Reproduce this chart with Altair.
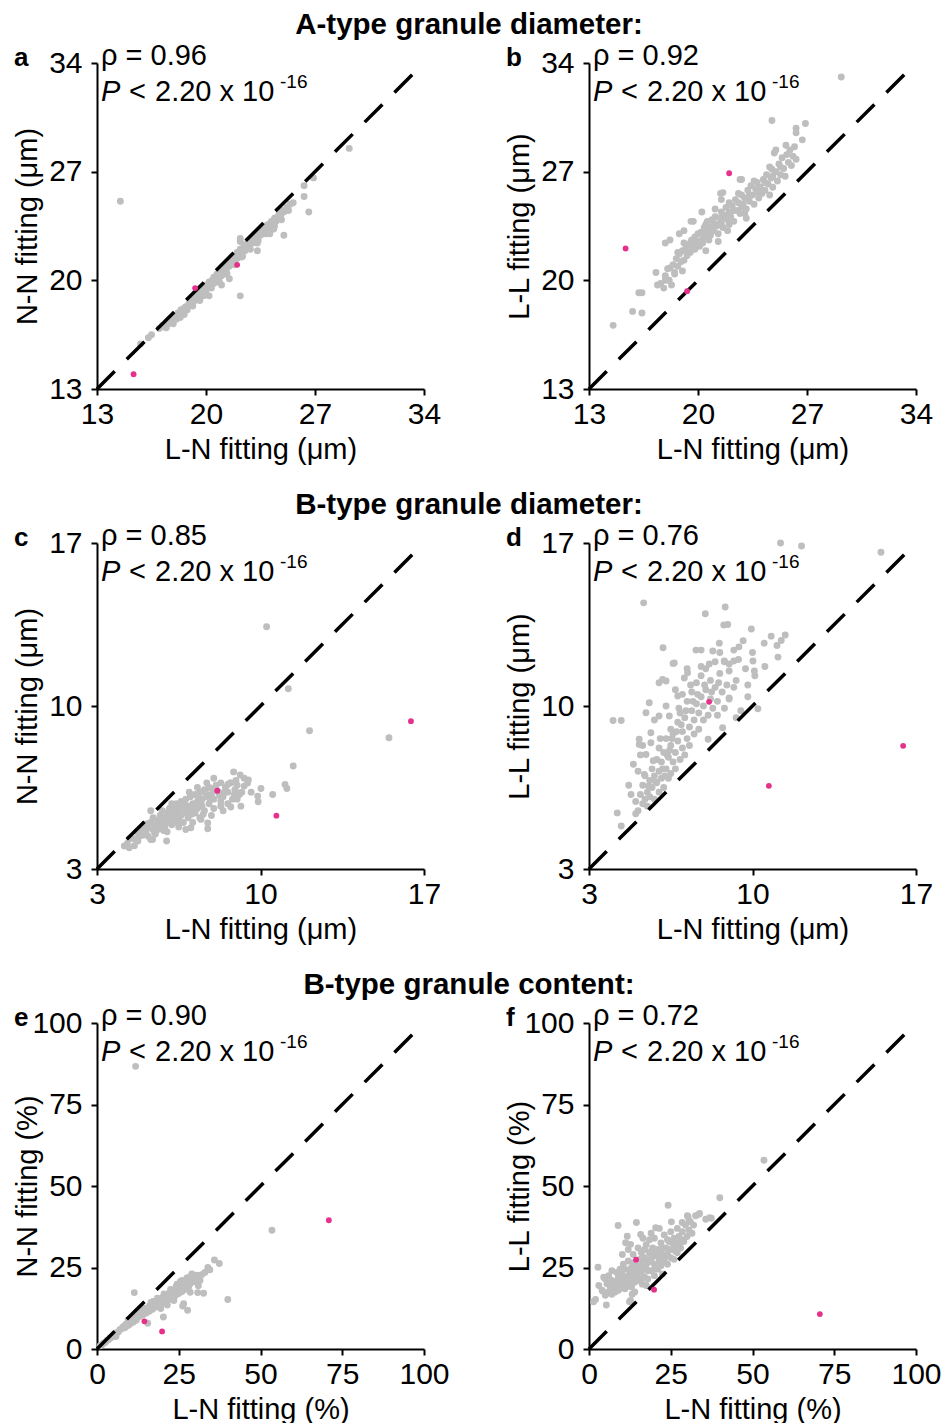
import altair as alt
import pandas as pd

FONT = "Liberation Sans"
GRAY = "#BEBEBE"
PINK = "#E6318C"

# ---------------- data ----------------
A_GRAY = [
    (14.5, 25.1), (29.2, 28.5), (26.9, 26.6), (26.3, 26.1), (26.3, 25.4), (26.6, 24.4),
    (25.0, 22.9), (22.2, 19.0), (22.2, 22.7), (17.9, 17.2), (16.3, 16.3), (16.5, 16.5),
    (15.8, 15.9), (24.1, 23.0), (23.3, 21.9), (21.5, 20.1), (21.0, 19.7), (20.2, 19.0),
    (24.4, 23.5),
    (17.0, 16.9), (17.2, 17.1), (17.3, 17.0), (17.5, 17.3), (17.6, 17.2), (17.7, 17.5),
    (17.8, 17.4), (17.9, 17.6), (18.0, 17.7), (18.1, 17.5), (18.2, 17.9), (18.3, 17.8),
    (18.4, 18.1), (18.5, 17.9), (18.6, 18.2), (18.7, 18.3), (18.8, 18.1), (18.9, 18.5),
    (19.0, 18.4), (19.0, 18.7), (19.1, 18.6), (19.2, 18.9), (19.3, 18.7), (19.4, 19.0),
    (19.5, 18.8), (19.5, 19.2), (19.6, 19.1), (19.7, 19.4), (19.8, 19.2), (19.9, 19.5),
    (20.0, 19.3), (20.0, 19.7), (20.1, 19.6), (20.2, 19.9), (20.3, 19.7), (20.4, 20.0),
    (20.5, 19.8), (20.5, 20.2), (20.6, 20.1), (20.7, 20.4), (20.8, 20.2), (20.9, 20.5),
    (21.0, 20.3), (21.0, 20.7), (21.1, 20.6), (21.2, 20.9), (21.3, 20.7), (21.4, 21.1),
    (21.5, 20.9), (21.5, 21.3), (21.6, 21.2), (21.7, 21.5), (21.8, 21.3), (21.9, 21.6),
    (22.0, 21.4), (22.0, 21.8), (22.1, 21.7), (22.2, 22.0), (22.3, 21.8), (22.4, 22.1),
    (22.5, 21.9), (22.5, 22.3), (22.6, 22.2), (22.7, 22.5), (22.8, 22.3), (22.9, 22.6),
    (23.0, 22.4), (23.0, 22.8), (23.1, 22.7), (23.2, 23.0), (23.3, 22.8), (23.4, 23.1),
    (23.5, 22.9), (23.6, 23.3), (23.7, 23.1), (23.8, 23.5), (23.9, 23.3), (24.0, 23.6),
    (24.1, 23.4), (24.2, 23.8), (24.3, 23.7), (24.4, 24.0), (24.5, 23.8), (24.6, 24.1),
    (24.7, 24.3), (24.8, 24.2), (24.9, 24.5), (25.0, 24.4), (25.2, 24.7), (25.4, 24.9),
    (25.6, 25.0), (23.7, 23.0), (22.3, 21.5), (21.2, 20.4), (20.7, 19.9), (19.6, 18.7),
    (18.6, 17.8), (24.1, 23.2), (23.3, 22.4), (22.2, 22.5),
    (19.15, 18.35), (19.85, 19.0), (20.35, 19.5), (20.85, 19.95), (21.35, 20.45),
    (21.85, 21.0), (22.35, 21.55), (22.85, 22.0), (23.35, 22.55), (23.85, 23.0),
    (24.35, 23.3), (24.85, 23.9), (25.3, 24.5), (18.35, 17.6), (17.45, 16.95),
]
A_PINK = [(15.35, 13.95), (19.3, 19.5), (22.0, 21.0)]

B_GRAY = [
    (29.2, 33.1), (24.75, 30.3), (26.9, 30.1), (26.3, 29.8), (26.3, 29.5), (26.7, 29.05),
    (14.55, 17.1), (15.8, 18.0), (16.4, 17.9), (16.2, 19.2), (16.4, 19.2), (17.4, 19.7),
    (17.8, 19.5), (17.9, 20.0), (18.05, 20.75), (17.9, 22.4), (18.2, 22.6), (19.1, 23.2),
    (19.7, 23.8), (20.25, 24.4), (21.45, 25.6), (21.6, 25.65), (22.7, 26.5),
    (18.8, 23.0), (18.7, 21.8), (19.1, 22.4), (19.55, 22.5), (19.55, 23.8), (21.5, 25.2),
    (22.8, 26.5), (17.3, 20.5), (18.15, 20.0), (18.5, 20.4),
    (17.6, 19.8), (17.9, 20.3), (18.1, 20.0), (18.2, 20.8), (18.4, 21.0), (18.5, 20.5),
    (18.6, 21.4), (18.7, 20.9), (18.8, 21.7), (18.9, 21.2), (19.0, 21.9), (19.1, 21.3),
    (19.2, 22.0), (19.3, 21.6), (19.4, 22.3), (19.5, 21.8), (19.6, 22.6), (19.7, 22.1),
    (19.8, 22.8), (19.9, 22.3), (20.0, 23.0), (20.0, 22.5), (20.1, 22.2), (20.2, 23.1),
    (20.3, 22.7), (20.4, 23.4), (20.5, 22.9), (20.5, 23.6), (20.6, 23.1), (20.7, 22.6),
    (20.8, 23.4), (20.9, 23.9), (21.0, 23.2), (21.0, 23.7), (21.1, 24.1), (21.2, 23.5),
    (21.3, 23.0), (21.4, 24.0), (21.5, 23.7), (21.5, 24.4), (21.6, 23.4), (21.7, 24.2),
    (21.8, 24.7), (21.9, 23.9), (22.0, 24.4), (22.0, 25.0), (22.1, 24.1), (22.2, 24.8),
    (22.3, 23.8), (22.4, 25.2), (22.5, 24.5), (22.6, 25.0), (22.7, 24.3), (22.8, 25.5),
    (22.9, 24.9), (23.0, 25.3), (23.1, 24.6), (23.2, 25.8), (23.3, 25.1), (23.4, 26.1),
    (23.5, 25.5), (23.6, 24.9), (23.7, 25.9), (23.8, 26.3), (23.9, 25.3), (24.0, 26.0),
    (24.1, 25.6), (24.2, 26.5), (24.3, 25.8), (24.4, 26.8), (24.5, 26.2), (24.6, 25.5),
    (24.7, 26.6), (24.8, 26.0), (25.0, 27.0), (25.1, 26.4), (25.2, 27.5), (25.3, 26.8),
    (25.4, 27.9), (25.5, 27.2), (25.6, 26.7), (25.7, 28.1), (25.8, 27.6), (25.9, 28.4),
    (26.0, 27.4), (26.1, 28.0), (26.2, 28.6), (26.3, 27.8), (25.0, 28.4), (24.9, 28.2),
    (23.0, 24.3), (22.0, 23.6), (19.0, 20.6), (18.3, 19.7), (20.5, 21.9), (21.3, 22.5),
    (25.65, 28.7), (24.75, 27.15),
    (19.3, 21.9), (19.8, 22.0), (20.3, 22.4), (20.8, 22.9), (21.3, 23.6), (21.8, 24.0),
    (22.3, 24.5), (22.8, 24.7), (23.3, 25.5), (23.8, 25.7), (24.3, 26.3), (24.8, 26.7),
    (25.3, 27.3), (20.6, 23.8), (21.1, 24.6), (22.6, 25.6), (23.6, 26.4), (24.6, 27.3),
    (21.9, 23.2), (23.1, 24.0),
]
B_PINK = [(15.35, 22.05), (22.0, 26.9), (19.3, 19.3)]

C_GRAY = [
    (10.26, 13.4), (11.19, 10.74), (12.1, 8.94), (15.5, 8.64), (11.4, 7.42), (11.05, 6.63),
    (11.13, 6.46), (10.52, 6.2), (10.02, 6.46), (9.88, 6.13), (9.9, 5.89), (9.48, 6.82),
    (9.45, 6.69), (9.13, 7.04), (8.85, 7.17), (9.16, 5.7), (7.74, 4.73), (7.45, 5.13),
    (5.98, 4.2), (4.17, 3.99), (4.38, 3.91), (4.96, 4.7), (5.38, 4.27), (9.3, 6.56),
    (8.6, 6.63), (8.74, 6.7), (8.88, 6.2), (9.02, 6.27), (8.3, 5.7), (8.73, 5.66),
    (7.74, 4.98), (7.02, 4.77), (5.3, 4.27),
    (4.6, 4.3), (4.7, 4.6), (4.8, 4.4), (4.9, 4.7), (5.0, 4.5), (5.0, 4.9), (5.1, 4.6),
    (5.2, 4.8), (5.2, 4.4), (5.3, 5.0), (5.4, 4.7), (5.4, 5.2), (5.5, 4.5), (5.5, 4.9),
    (5.6, 5.1), (5.6, 4.7), (5.7, 5.3), (5.7, 4.9), (5.8, 5.0), (5.8, 5.5), (5.9, 4.8),
    (5.9, 5.2), (6.0, 5.4), (6.0, 4.6), (6.0, 5.0), (6.1, 5.6), (6.1, 5.1), (6.2, 4.9),
    (6.2, 5.3), (6.3, 5.7), (6.3, 5.0), (6.4, 5.4), (6.4, 5.8), (6.5, 5.2), (6.5, 5.5),
    (6.5, 4.8), (6.6, 5.9), (6.6, 5.3), (6.7, 5.6), (6.7, 5.0), (6.8, 6.0), (6.8, 5.4),
    (6.9, 5.7), (6.9, 5.2), (7.0, 6.1), (7.0, 5.5), (7.1, 5.8), (7.1, 5.0), (7.2, 6.2),
    (7.2, 5.4), (7.3, 5.9), (7.3, 5.6), (7.4, 6.3), (7.4, 5.2), (7.5, 6.0), (7.5, 5.7),
    (7.6, 6.4), (7.6, 5.5), (7.7, 6.1), (7.8, 5.8), (7.8, 6.5), (7.9, 6.2), (8.0, 5.6),
    (8.0, 6.0), (8.1, 6.6), (8.2, 6.3), (8.3, 5.9), (8.3, 6.7), (8.4, 6.1), (8.5, 6.5),
    (8.6, 6.3), (8.6, 5.8), (8.7, 6.7), (8.8, 6.0), (8.9, 6.4), (9.0, 6.6), (9.1, 6.2),
    (9.2, 6.3), (8.0, 6.9), (7.3, 6.5), (6.2, 5.8), (5.3, 5.5), (4.4, 4.3), (4.3, 4.1),
    (4.6, 4.0), (6.8, 4.7), (7.9, 5.3), (8.4, 5.5), (9.0, 6.0), (9.6, 6.3),
    (5.15, 4.95), (5.45, 4.6), (5.75, 5.15), (6.05, 5.25), (6.35, 5.15), (6.55, 5.65),
    (6.85, 5.55), (7.15, 5.65), (7.45, 5.85), (7.65, 6.25), (7.95, 6.45), (8.25, 6.15),
    (6.25, 5.45), (5.95, 5.0), (5.65, 4.85), (6.75, 5.8), (7.05, 5.35), (7.35, 6.1),
    (7.85, 6.0), (8.15, 6.35), (6.45, 5.0), (5.85, 4.65), (4.95, 4.45), (4.75, 4.2),
    (7.55, 5.35), (8.45, 6.3), (8.95, 6.8), (9.3, 6.9), (6.95, 6.3), (7.7, 6.7),
]
C_PINK = [(16.44, 9.35), (8.15, 6.36), (10.68, 5.29)]

D_GRAY = [
    (11.2, 17.0), (12.1, 16.87), (15.5, 16.6), (5.34, 14.43), (8.83, 14.25), (7.98, 13.96),
    (8.77, 13.48), (9.95, 13.31), (11.4, 13.05), (11.23, 12.81), (11.05, 12.6), (11.09, 12.1),
    (6.17, 12.5), (9.42, 12.54), (10.02, 11.93), (10.53, 11.7), (4.03, 9.38), (4.38, 9.38),
    (4.21, 5.41), (4.38, 4.85), (5.0, 5.37), (10.23, 9.88), (9.8, 10.4), (6.6, 11.83),
    (6.15, 11.14), (6.3, 11.07), (7.08, 11.2), (7.22, 11.43), (7.58, 12.4), (7.8, 11.7),
    (8.79, 11.93), (9.0, 11.8), (9.2, 11.93), (8.94, 13.5), (10.08, 11.5), (9.2, 10.8),
    (9.0, 10.35), (8.72, 9.07), (8.1, 8.57), (5.37, 7.06), (5.15, 8.57), (5.15, 8.35),
    (5.65, 8.42), (5.44, 7.92), (5.65, 8.85), (5.44, 9.71), (5.58, 10.14), (6.0, 9.57),
    (6.44, 9.57), (6.8, 10.43), (7.0, 10.5), (6.65, 11.85), (8.3, 12.36), (8.58, 12.7),
    (5.0, 5.9), (5.1, 5.5), (5.2, 6.2), (5.3, 5.8), (5.3, 6.6), (5.4, 6.0), (5.4, 7.0),
    (5.5, 6.3), (5.5, 5.7), (5.6, 6.8), (5.6, 6.1), (5.7, 7.3), (5.7, 6.5), (5.8, 6.0),
    (5.8, 7.0), (5.9, 6.7), (5.9, 7.7), (6.0, 6.3), (6.0, 7.2), (6.0, 8.2), (6.1, 6.9),
    (6.1, 7.6), (6.2, 6.5), (6.2, 8.0), (6.3, 7.3), (6.3, 8.6), (6.4, 6.9), (6.4, 7.8),
    (6.5, 8.3), (6.5, 7.1), (6.5, 9.0), (6.6, 7.6), (6.6, 8.8), (6.7, 8.0), (6.7, 7.3),
    (6.8, 9.3), (6.8, 8.5), (6.9, 7.7), (6.9, 9.7), (7.0, 8.2), (7.0, 8.9), (7.1, 7.9),
    (7.1, 9.5), (7.2, 8.6), (7.2, 10.2), (7.3, 9.1), (7.3, 8.3), (7.4, 9.8), (7.4, 10.6),
    (7.5, 8.8), (7.5, 9.4), (7.6, 10.1), (7.6, 11.0), (7.7, 9.0), (7.7, 9.7), (7.8, 10.4),
    (7.8, 11.3), (7.9, 9.4), (7.9, 10.0), (8.0, 10.7), (8.0, 11.6), (8.1, 9.6), (8.2, 10.3),
    (8.2, 11.1), (8.3, 9.9), (8.4, 10.8), (8.4, 11.9), (8.5, 10.2), (8.5, 9.6), (8.6, 11.4),
    (8.7, 10.6), (8.8, 11.9), (8.8, 9.9), (8.9, 10.9), (9.0, 11.5), (9.0, 10.3), (9.2, 12.4),
    (9.3, 11.1), (9.5, 9.8), (9.6, 12.8), (9.7, 11.6), (9.8, 10.9), (10.0, 12.3), (10.1, 11.3),
    (10.5, 12.7), (10.8, 13.0), (7.8, 12.4), (7.2, 11.6), (6.7, 10.7), (6.3, 10.0),
    (5.8, 9.4), (5.3, 8.3), (5.1, 7.2), (4.7, 6.6), (4.9, 7.5), (6.0, 11.0), (8.6, 12.3),
    (9.4, 12.0), (4.8, 6.2), (5.2, 7.9), (9.3, 9.5),
    (5.55, 6.55), (5.85, 6.75), (6.15, 7.3), (6.35, 7.9), (6.55, 8.6), (6.75, 8.9),
    (6.95, 9.2), (7.15, 9.8), (7.45, 10.2), (7.65, 10.5), (7.95, 10.9), (8.25, 10.6),
    (8.55, 11.0), (5.75, 7.65), (6.05, 8.6), (6.85, 9.9), (7.35, 10.9), (8.15, 11.8),
    (6.45, 8.1), (6.25, 7.0),
]
D_PINK = [(8.14, 10.18), (10.7, 6.57), (16.45, 8.29)]

E_GRAY = [
    (11.8, 86.7), (53.5, 36.4), (40.0, 15.2), (37.4, 26.2), (35.9, 27.3), (33.9, 25.0),
    (34.5, 24.3), (11.4, 17.3), (32.6, 17.1), (30.8, 17.3), (27.7, 11.9), (26.2, 13.2),
    (26.5, 13.9), (20.3, 9.8), (15.5, 7.9),
    (1.0, 1.0), (1.5, 1.3), (2.0, 1.8), (2.5, 2.0), (3.0, 2.6), (3.5, 2.8), (4.0, 3.4),
    (4.5, 3.6), (5.0, 4.2), (5.5, 4.5), (5.8, 3.8), (6.0, 5.0), (6.5, 5.2), (7.0, 5.9),
    (7.5, 6.2), (8.0, 6.8), (8.5, 6.5), (9.0, 7.6), (9.5, 7.2), (10.0, 8.5), (10.0, 7.6),
    (10.5, 9.0), (11.0, 8.2), (11.0, 9.6), (11.5, 9.1), (12.0, 10.2), (12.0, 8.8),
    (12.5, 9.8), (13.0, 11.0), (13.0, 10.0), (13.5, 10.6), (14.0, 11.8), (14.0, 10.4),
    (14.5, 11.3), (15.0, 12.4), (15.0, 11.0), (15.5, 12.0), (16.0, 13.1), (16.0, 11.6),
    (16.5, 12.6), (17.0, 13.8), (17.0, 12.2), (17.5, 13.2), (18.0, 14.5), (18.0, 12.9),
    (18.5, 13.9), (19.0, 15.1), (19.0, 13.4), (19.5, 14.5), (20.0, 15.7), (20.0, 14.1),
    (20.5, 15.0), (21.0, 16.3), (21.0, 14.6), (21.5, 15.6), (22.0, 17.0), (22.0, 15.2),
    (22.5, 16.2), (23.0, 17.6), (23.0, 15.8), (23.5, 16.9), (24.0, 18.2), (24.0, 16.4),
    (24.5, 17.4), (25.0, 18.9), (25.0, 17.0), (25.5, 18.0), (26.0, 19.5), (26.0, 17.6),
    (26.5, 18.6), (27.0, 20.2), (27.0, 18.3), (27.5, 19.3), (28.0, 20.8), (28.0, 19.0),
    (28.5, 20.0), (29.0, 21.5), (29.5, 20.6), (30.0, 22.0), (30.5, 21.2), (31.0, 22.5),
    (31.5, 21.0), (32.0, 22.8), (33.0, 23.5), (26.0, 21.0), (24.5, 19.9), (22.5, 18.3),
    (20.5, 16.9), (18.5, 15.6), (16.5, 14.3), (27.5, 21.8), (29.0, 23.0), (25.5, 20.7),
    (23.5, 14.9), (21.5, 13.5), (19.5, 12.4), (28.5, 17.4), (31.0, 19.4), (12.5, 11.7),
    (9.5, 8.8),
    (8.7, 7.4), (9.8, 8.0), (10.8, 8.8), (11.7, 9.5), (12.8, 10.5), (13.7, 11.2),
    (14.8, 11.9), (15.7, 12.5), (16.8, 13.3), (17.7, 14.0), (18.8, 14.7), (19.7, 15.3),
    (20.8, 15.8), (21.7, 16.7), (22.8, 17.3), (23.7, 17.8), (24.8, 18.4), (25.7, 19.0),
    (26.8, 19.8), (27.7, 20.4), (28.7, 21.0), (29.7, 21.8), (30.3, 22.6), (24.2, 19.2),
    (22.2, 16.6), (19.2, 14.2), (17.2, 14.6), (26.3, 20.4), (28.2, 22.0), (14.3, 12.5),
]
E_PINK = [(70.9, 39.5), (14.5, 8.5), (19.9, 5.4)]

F_GRAY = [
    (53.5, 57.9), (40.0, 46.4), (24.2, 44.1), (8.9, 37.9), (14.5, 38.8), (2.75, 25.1),
    (1.4, 14.5), (5.3, 13.5), (12.4, 14.5), (4.8, 21.6), (33.8, 41.6), (36.9, 40.3),
    (37.4, 40.1), (25.2, 39.0), (30.3, 40.6), (20.4, 37.2), (15.8, 35.1), (11.7, 34.6),
    (11.2, 32.6), (12.7, 32.1), (10.2, 29.0), (5.6, 20.4), (2.0, 15.2), (4.1, 17.8),
    (5.1, 16.8), (7.6, 19.9), (9.2, 18.4), (11.2, 18.9), (12.7, 14.9), (13.2, 16.8),
    (16.3, 19.9), (28.5, 38.8), (30.6, 39.3), (33.6, 41.3), (35.7, 39.8), (30.1, 40.9),
    (32.6, 40.9),
    (4.0, 18.0), (5.0, 16.5), (5.5, 20.0), (6.0, 17.5), (6.5, 19.0), (7.0, 21.0),
    (7.0, 16.8), (7.5, 18.5), (8.0, 20.5), (8.0, 17.5), (8.5, 19.5), (9.0, 22.0),
    (9.0, 18.0), (9.5, 20.5), (10.0, 19.0), (10.0, 23.0), (10.5, 21.5), (11.0, 18.5),
    (11.0, 24.5), (11.5, 20.0), (12.0, 22.5), (12.0, 27.0), (12.5, 19.5), (13.0, 25.0),
    (13.0, 21.5), (13.5, 23.5), (13.5, 29.0), (14.0, 20.5), (14.0, 26.0), (14.5, 22.5),
    (15.0, 24.5), (15.0, 31.0), (15.5, 21.0), (15.5, 27.5), (16.0, 23.5), (16.0, 29.5),
    (16.5, 25.5), (17.0, 22.0), (17.0, 28.0), (17.5, 24.5), (17.5, 32.0), (18.0, 26.5),
    (18.0, 21.5), (18.5, 29.5), (19.0, 24.0), (19.0, 27.5), (19.5, 31.0), (20.0, 22.5),
    (20.0, 26.0), (20.0, 34.0), (20.5, 28.5), (21.0, 24.5), (21.0, 30.5), (21.5, 27.0),
    (22.0, 32.5), (22.0, 25.5), (22.5, 29.0), (23.0, 27.0), (23.0, 35.0), (23.5, 31.0),
    (24.0, 26.0), (24.0, 29.0), (24.5, 33.0), (25.0, 28.0), (25.0, 36.0), (25.5, 30.5),
    (26.0, 27.5), (26.0, 34.0), (26.5, 32.0), (27.0, 29.5), (27.0, 37.0), (27.5, 34.5),
    (28.0, 31.0), (28.5, 36.0), (29.0, 33.0), (29.5, 38.0), (30.0, 34.5), (30.5, 36.5),
    (31.0, 39.0), (31.5, 35.5), (32.0, 38.0), (12.0, 30.5), (10.5, 26.0), (8.5, 23.5),
    (6.0, 22.5), (3.0, 19.5), (4.5, 22.0), (16.5, 34.0), (19.0, 35.5), (17.5, 19.5),
    (14.0, 17.5), (22.5, 23.0), (7.0, 24.0), (21.5, 37.0), (18.5, 33.5),
    (11.5, 22.0), (12.5, 24.0), (13.5, 26.5), (14.5, 24.0), (15.5, 25.5), (16.5, 27.0),
    (17.5, 26.0), (18.5, 27.5), (19.5, 28.5), (20.5, 30.0), (21.5, 29.0), (22.5, 31.0),
    (23.5, 28.5), (24.5, 30.5), (25.5, 32.5), (26.5, 30.0), (27.5, 32.5), (28.5, 33.5),
    (18.0, 24.0), (16.0, 21.5), (14.0, 22.5), (12.0, 20.5), (10.0, 21.0), (9.5, 24.5),
    (20.0, 24.5), (22.0, 27.5), (24.0, 33.5), (19.0, 30.0), (17.0, 30.5), (13.0, 19.0),
]
F_PINK = [(14.4, 27.4), (19.9, 18.2), (70.6, 10.7)]

DOMAINS = [(13, 34), (3, 17), (0, 100)]
DIAG_END = [33.5, 16.65, 97.5]
TICKS = [[13, 20, 27, 34], [3, 10, 17], [0, 25, 50, 75, 100]]
SECTIONS = ["A-type granule diameter:", "B-type granule diameter:", "B-type granule content:"]
LETTERS = ["a", "b", "c", "d", "e", "f"]
RHOS = ["0.96", "0.92", "0.85", "0.76", "0.90", "0.72"]
XTITLES = ["L-N fitting (μm)", "L-N fitting (μm)", "L-N fitting (%)"]
YTITLES = [["N-N fitting (μm)", "L-L fitting (μm)"],
           ["N-N fitting (μm)", "L-L fitting (μm)"],
           ["N-N fitting (%)", "L-L fitting (%)"]]

W, H = 327, 326


def text_layer(s, x, y, size, weight="normal", style="normal", align="left"):
    return alt.Chart(pd.DataFrame({"t": [s]})).mark_text(
        align=align, baseline="alphabetic", font=FONT, fontSize=size,
        fontWeight=weight, fontStyle=style, color="black"
    ).encode(x=alt.value(x), y=alt.value(y), text="t:N")


def panel(gray, pink, row, col, idx):
    lo, hi = DOMAINS[row]
    sx = alt.Scale(domain=[lo, hi], nice=False, zero=False)
    sy = alt.Scale(domain=[lo, hi], nice=False, zero=False)
    xaxis = alt.Axis(values=TICKS[row], title=XTITLES[row], format="d",
                     titleX=W / 2, titleY=69, titleBaseline="alphabetic",
                     titleAlign="center", labelFlush=False, labelOverlap=False,
                     labelPadding=4)
    yaxis = alt.Axis(values=TICKS[row], title=YTITLES[row][col], format="d",
                     titleX=-61, titleY=H / 2, titleAngle=270,
                     titleBaseline="alphabetic", titleAlign="center",
                     labelOverlap=False, labelPadding=9)
    ex = alt.X("x:Q", scale=sx, axis=xaxis)
    ey = alt.Y("y:Q", scale=sy, axis=yaxis)

    gdf = pd.DataFrame(gray, columns=["x", "y"])
    pdf = pd.DataFrame(pink, columns=["x", "y"])
    ldf = pd.DataFrame({"x": [lo, DIAG_END[row]], "y": [lo, DIAG_END[row]]})

    pts = alt.Chart(gdf).mark_circle(size=48, color=GRAY, opacity=1).encode(x=ex, y=ey)
    line = alt.Chart(ldf).mark_line(color="black", strokeWidth=3.5, strokeDash=[25, 17],
                                     strokeCap="butt").encode(x=ex, y=ey)
    pk = alt.Chart(pdf).mark_circle(size=34, color=PINK, opacity=1).encode(x=ex, y=ey)

    layers = [pts, line, pk,
              text_layer(LETTERS[idx], -83, 3, 26, weight="bold"),
              text_layer("ρ = " + RHOS[idx], 4, 2, 29),
              text_layer("P", 4, 38, 29, style="italic"),
              text_layer("<", 32, 38, 29),
              text_layer("2.20 x 10", 58, 38, 29),
              text_layer("-16", 183, 25, 19)]
    if col == 0:
        layers.append(text_layer(SECTIONS[row], 372, -29, 29.5, weight="bold", align="center"))
    if idx == 0:
        anchor = alt.Chart(pd.DataFrame({"t": [0]})).mark_rule(color="white", strokeWidth=1).encode(
            x=alt.value(-96), x2=alt.value(-90), y=alt.value(-62), y2=alt.value(-62))
        layers.append(anchor)
    return alt.layer(*layers).properties(width=W, height=H)


panels = [
    panel(A_GRAY, A_PINK, 0, 0, 0), panel(B_GRAY, B_PINK, 0, 1, 1),
    panel(C_GRAY, C_PINK, 1, 0, 2), panel(D_GRAY, D_PINK, 1, 1, 3),
    panel(E_GRAY, E_PINK, 2, 0, 4), panel(F_GRAY, F_PINK, 2, 1, 5),
]

chart = alt.concat(*panels, columns=2, spacing={"row": 154, "column": 165},
                   bounds="flush").properties(padding=0, background="white")

chart = chart.configure_view(stroke=None).configure_axis(
    grid=False, domainColor="black", domainWidth=2, tickColor="black", tickWidth=2,
    tickSize=6, labelFont=FONT, labelFontSize=30, labelColor="black",
    titleFont=FONT, titleFontSize=29, titleFontWeight="normal", titleColor="black"
)

chart.save("out.html", embed_options={"renderer": "svg", "actions": False})
